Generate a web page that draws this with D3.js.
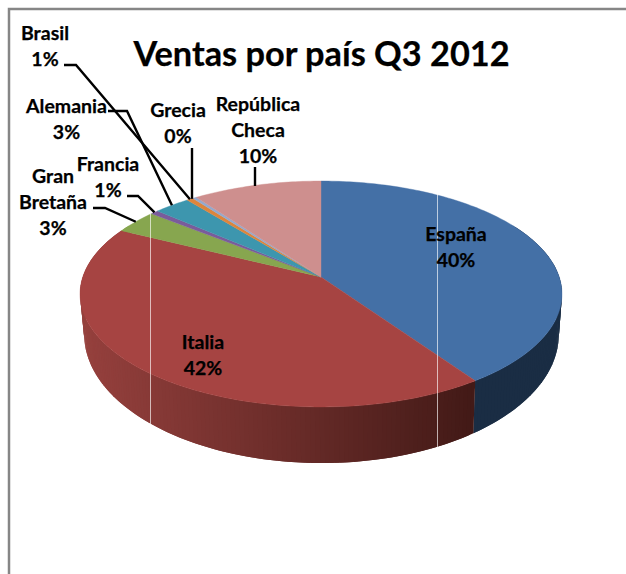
<!DOCTYPE html>
<html>
<head>
<meta charset="utf-8">
<script src="https://cdn.jsdelivr.net/npm/d3@7"></script>
<style>
    html, body { margin: 0; padding: 0; background: #fff; }
    svg { display: block; }
    text { font-family: Lato, "Open Sans", sans-serif; font-weight: 700; fill: #000; stroke: #000; stroke-width: 0.25px; }
</style>
</head>
<body>
<div id="chart"></div>
<script>
// Chart values
const countries = ["España", "Italia", "Gran Bretaña", "Francia", "Alemania", "Brasil", "Grecia", "República Checa"];
const shares = [40.4, 42, 3.4, 0.6, 2.8, 0.5, 0.3, 10];
const percentLabels = ["40%", "42%", "3%", "1%", "3%", "1%", "0%", "10%"];
const topColors = ["#4470a6", "#a64442", "#87a64f", "#7a5b9b", "#3d96ae", "#dd853c", "#93a9cf", "#ce8f8e"];
const wallLeft = ["#1c3149", "#95403d", "#87a64f", "#7a5b9b", "#3d96ae", "#dd853c", "#93a9cf", "#ce8f8e"];
const wallRight = ["#1a2d44", "#431a17", "#87a64f", "#7a5b9b", "#3d96ae", "#dd853c", "#93a9cf", "#ce8f8e"];

const width = 626, height = 574;
const svg = d3.select("#chart").append("svg").attr("width", width).attr("height", height);

// Disc projection, the pie is drawn in perspective so the centre sits above the middle
const persp = 0.1504;
const topDisc = { cx: 321, cy: 277, ax: 238.2, ay: 110.4 };
const lowDisc = { cx: 321.5, cy: 315, ax: 234.6, ay: 125.8 };

function project(disc, angle) {
    const u = Math.sin(angle), v = -Math.cos(angle);
    const w = 1 - persp * v;
    return [disc.cx + disc.ax * u / w, disc.cy + disc.ay * v / w];
}

const arcs = d3.pie().sort(null).value(d => d)(shares);
const line = d3.line();
const step = Math.PI / 180;

function anglesBetween(a0, a1) {
    const n = Math.max(1, Math.ceil((a1 - a0) / step));
    return d3.range(n + 1).map(i => a0 + (a1 - a0) * i / n);
}

// Frame
svg.append("path")
    .attr("d", "M9,574V9H626")
    .attr("fill", "none")
    .attr("stroke", "#868686")
    .attr("stroke-width", 2.5);

// Side wall, only the near part shows. Strips overlap by one step so no seams show
const wallFrom = 60 * step, wallTo = 300 * step;
const wall = svg.append("g");
arcs.forEach((d, i) => {
    const a0 = Math.max(d.startAngle, wallFrom), a1 = Math.min(d.endAngle, wallTo);
    if (a1 <= a0) return;
    const color = d3.scaleLinear().domain([85, 470]).range([wallLeft[i], wallRight[i]]).clamp(true);
    d3.pairs(anglesBetween(a0, a1)).forEach(([p, q]) => {
        const far = Math.min(q + step, a1);
        const poly = [project(topDisc, p), project(topDisc, far), project(lowDisc, far), project(lowDisc, p)];
        wall.append("path")
            .attr("d", line(poly) + "Z")
            .attr("fill", color(project(topDisc, (p + q) / 2)[0]));
    });
});

// Top surface
svg.append("g").selectAll("path")
    .data(arcs)
    .join("path")
    .attr("d", d => line([[topDisc.cx, topDisc.cy], ...anglesBetween(d.startAngle, d.endAngle).map(a => project(topDisc, a))]) + "Z")
    .attr("fill", (d, i) => topColors[i])
    .attr("stroke", (d, i) => topColors[i])
    .attr("stroke-width", 0.4);

// Thin pale seams that run down through the pie in the original
svg.append("g").selectAll("line")
    .data([[150.5, 214, 426], [437.5, 194, 447]])
    .join("line")
    .attr("x1", d => d[0]).attr("x2", d => d[0])
    .attr("y1", d => d[1]).attr("y2", d => d[2])
    .attr("stroke", "#fff")
    .attr("stroke-opacity", 0.65)
    .attr("stroke-width", 1);

// Leader lines, elbow points are layout; the far end lands on the slice rim
const leaders = [
    { i: 5, elbow: [[64, 65], [76, 65]] },
    { i: 4, elbow: [[108, 111], [127, 111]] },
    { i: 6, elbow: [[192, 148]], vertical: true },
    { i: 7, elbow: [[255, 167]], vertical: true },
    { i: 3, elbow: [[127, 196], [138, 196]] },
    { i: 2, elbow: [[93, 208], [105, 208]] }
];
svg.append("g").selectAll("path")
    .data(leaders)
    .join("path")
    .attr("d", d => {
        const mid = (arcs[d.i].startAngle + arcs[d.i].endAngle) / 2;
        const end = project(topDisc, mid);
        if (d.vertical) return line([d.elbow[0], [d.elbow[0][0], d.i === 7 ? 186 : end[1] + 1]]);
        return line([...d.elbow, end]);
    })
    .attr("fill", "none")
    .attr("stroke", "#000")
    .attr("stroke-width", 2.4);

// Title
svg.append("text")
    .attr("x", 321.5)
    .attr("y", 66)
    .attr("text-anchor", "middle")
    .style("font-size", "34.3px")
    .text("Ventas por país Q3 2012");

// Data labels, one row per line of text
const labelLayout = [
    { i: 0, x: 456, y: 241, rows: ["España"] },
    { i: 1, x: 203, y: 349, rows: ["Italia"] },
    { i: 2, x: 53, y: 183, rows: ["Gran", "Bretaña"] },
    { i: 3, x: 108, y: 171, rows: ["Francia"] },
    { i: 4, x: 66.5, y: 113, rows: ["Alemania"] },
    { i: 5, x: 45, y: 40, rows: ["Brasil"] },
    { i: 6, x: 178, y: 117, rows: ["Grecia"] },
    { i: 7, x: 258, y: 111, rows: ["República", "Checa"] }
];
const labels = svg.append("g").selectAll("text")
    .data(labelLayout)
    .join("text")
    .attr("text-anchor", "middle")
    .style("font-size", "19.5px");
labels.selectAll("tspan")
    .data(d => [...d.rows, percentLabels[d.i]].map((t, k) => ({ t, k, x: d.x, y: d.y })))
    .join("tspan")
    .attr("x", d => d.x)
    .attr("y", d => d.y + d.k * 26)
    .text(d => d.t);
</script>
</body>
</html>
